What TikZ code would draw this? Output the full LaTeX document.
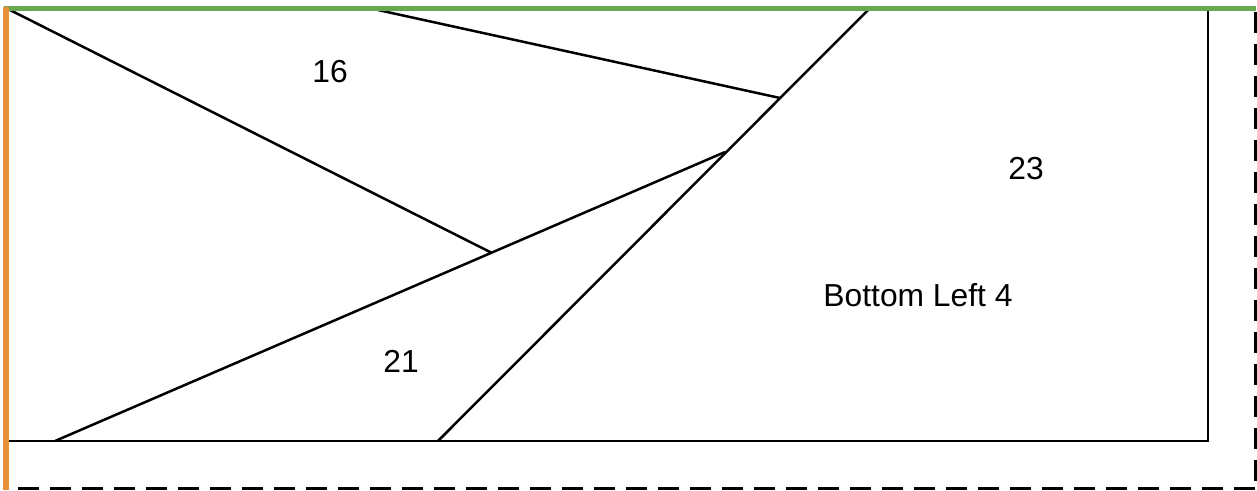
\documentclass[tikz,border=0pt]{standalone}
\usepackage{fontspec}
\setmainfont{Liberation Sans}
\definecolor{topgreen}{HTML}{6AA84F}
\definecolor{sideorange}{HTML}{E69138}
\begin{document}
\begin{tikzpicture}[x=1pt,y=-1pt,line width=2.5pt]
\tikzset{
    cut/.style={draw,black,line width=2.5pt},
    border/.style={draw,black,line width=2.5pt,dash pattern=on 21pt off 11pt},
    lbl/.style={font=\fontsize{31.8}{38}\selectfont,inner sep=0}
}
\useasboundingbox (0,0) rectangle (1257,490);
%frame
\path[cut] (6,441) -- (1208,441) -- (1208,9);
\path[border] (18,488.5) -- (1257,488.5);
\path[border] (1255.5,12) -- (1255.5,490);
%cuts
\coordinate (a1) at (10,10);
\coordinate (a2) at (492,253);
\coordinate (b1) at (378,10);
\coordinate (b2) at (780,98);
\coordinate (c1) at (868,10);
\coordinate (c2) at (438,441);
\coordinate (d1) at (55,441);
\coordinate (d2) at (725,152);
\foreach \p/\q in {a1/a2, b1/b2, c1/c2, d1/d2}{
    \path[cut] (\p) -- (\q);
}
%edges
\path[draw,topgreen,line width=5.5pt] (4,8.5) -- (1256,8.5);
\path[draw,sideorange,line width=5.5pt] (6,7) -- (6,490);
%labels
\node[lbl] (p16) at (330,72) {16};
\node[lbl] (p23) at (1026,169) {23};
\node[lbl] (p4) at (918,295) {Bottom Left 4};
\node[lbl] (p21) at (401,361) {21};
\end{tikzpicture}
\end{document}
